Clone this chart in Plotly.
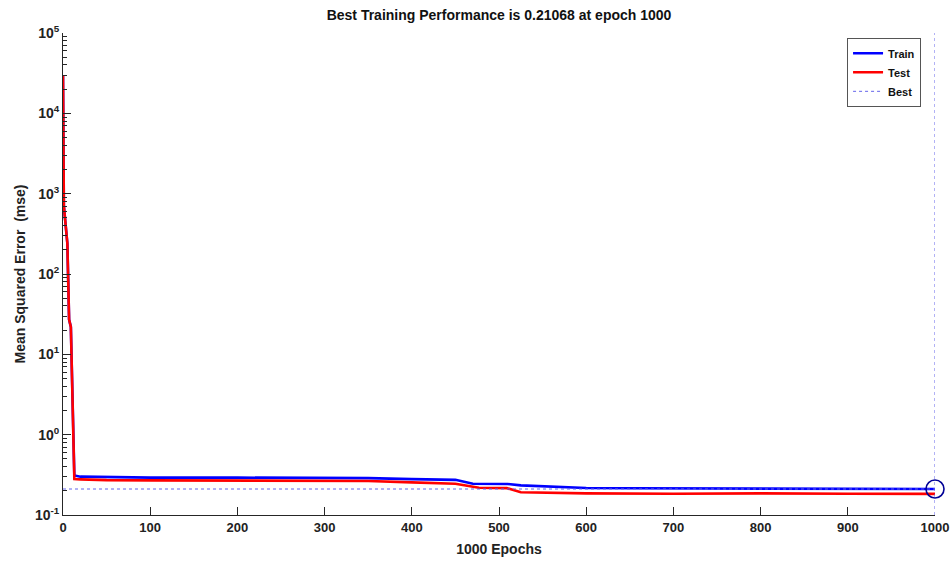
import plotly.graph_objects as go

# ---- data ----
train_epochs = [0, 1, 5, 7, 9, 13, 20, 50, 100, 200, 300, 350, 400, 450, 470, 510, 525, 550, 600, 650, 700, 800, 900, 1000]
train_mse = [30000, 700, 240, 27, 22, 0.31, 0.30, 0.295, 0.292, 0.292, 0.291, 0.288, 0.280, 0.274, 0.245, 0.243, 0.234, 0.228, 0.217, 0.215, 0.214, 0.213, 0.212, 0.21068]

test_epochs = [0, 1, 5, 7, 9, 13, 20, 50, 100, 200, 300, 350, 400, 450, 477, 509, 525, 550, 600, 700, 800, 900, 1000]
test_mse = [30000, 700, 240, 27, 22, 0.28, 0.278, 0.272, 0.270, 0.269, 0.268, 0.265, 0.255, 0.245, 0.218, 0.216, 0.192, 0.189, 0.186, 0.184, 0.186, 0.184, 0.183]

best_epoch = 1000
best_perf = 0.21068

x_ticks = [0, 100, 200, 300, 400, 500, 600, 700, 800, 900, 1000]
y_tick_vals = [0.1, 1, 10, 100, 1000, 10000, 100000]
y_tick_text = ["10<sup>-1</sup>", "10<sup>0</sup>", "10<sup>1</sup>", "10<sup>2</sup>",
               "10<sup>3</sup>", "10<sup>4</sup>", "10<sup>5</sup>"]
y_min, y_max = 0.1, 100000

FONT = "Liberation Sans, Arial, sans-serif"
AX = "#262626"

fig = go.Figure()
fig.add_trace(go.Scatter(x=train_epochs, y=train_mse, mode="lines", name="<b>Train</b>",
                         line=dict(color="rgb(0,0,255)", width=2.6)))
fig.add_trace(go.Scatter(x=test_epochs, y=test_mse, mode="lines", name="<b>Test</b>",
                         line=dict(color="rgb(255,0,0)", width=2.6)))
fig.add_trace(go.Scatter(x=[0, best_epoch, None, best_epoch, best_epoch],
                         y=[best_perf, best_perf, None, y_min, y_max],
                         mode="lines", name="<b>Best</b>",
                         line=dict(color="rgb(100,100,235)", width=1, dash="dot")))
fig.add_trace(go.Scatter(x=[best_epoch], y=[best_perf], mode="markers", showlegend=False,
                         cliponaxis=False,
                         marker=dict(symbol="circle-open", size=18, color="rgb(0,0,150)",
                                     line=dict(width=1.6, color="rgb(0,0,150)"))))

fig.update_layout(
    width=952, height=563,
    margin=dict(l=63, r=17, t=33, b=48, autoexpand=False),
    paper_bgcolor="white", plot_bgcolor="white",
    font=dict(family=FONT, color="#1a1a1a", size=13),
    title=dict(text="<b>Best Training Performance is 0.21068 at epoch 1000</b>",
               x=(63 + 935) / 2 / 952, xanchor="center", y=1 - 15 / 563, yanchor="middle",
               font=dict(size=14, family=FONT, color="#111")),
    showlegend=True,
    legend=dict(x=0.984, xanchor="right", y=0.99, yanchor="top",
                bgcolor="white", bordercolor="#555", borderwidth=1,
                font=dict(size=11, family=FONT, color="#111"),
                itemwidth=30, tracegroupgap=0),
)
fig.update_xaxes(
    range=[0, 1000], tickvals=x_ticks, ticktext=[f"<b>{t}</b>" for t in x_ticks],
    showgrid=False, zeroline=False, showline=True, linecolor=AX, linewidth=1,
    ticks="inside", ticklen=8, tickcolor=AX, mirror=False, automargin=False,
    tickfont=dict(size=13, family=FONT, color="#222"),
    title=dict(text="<b>1000 Epochs</b>", font=dict(size=14, family=FONT, color="#222"), standoff=10),
)
fig.update_yaxes(
    type="log", range=[-1, 5], tickvals=y_tick_vals, automargin=False,
    ticktext=[f"<b>{t}</b>" for t in y_tick_text],
    showgrid=False, zeroline=False, showline=True, linecolor=AX, linewidth=1,
    ticks="inside", ticklen=8, tickcolor=AX,
    minor=dict(ticks="inside", ticklen=4, tickcolor=AX, dtick="D1", showgrid=False),
    tickfont=dict(size=14, family=FONT, color="#222"),
    title=dict(text="<b>Mean Squared Error  (mse)</b>", font=dict(size=14, family=FONT, color="#222"), standoff=6),
)

fig.write_html("out.html")
